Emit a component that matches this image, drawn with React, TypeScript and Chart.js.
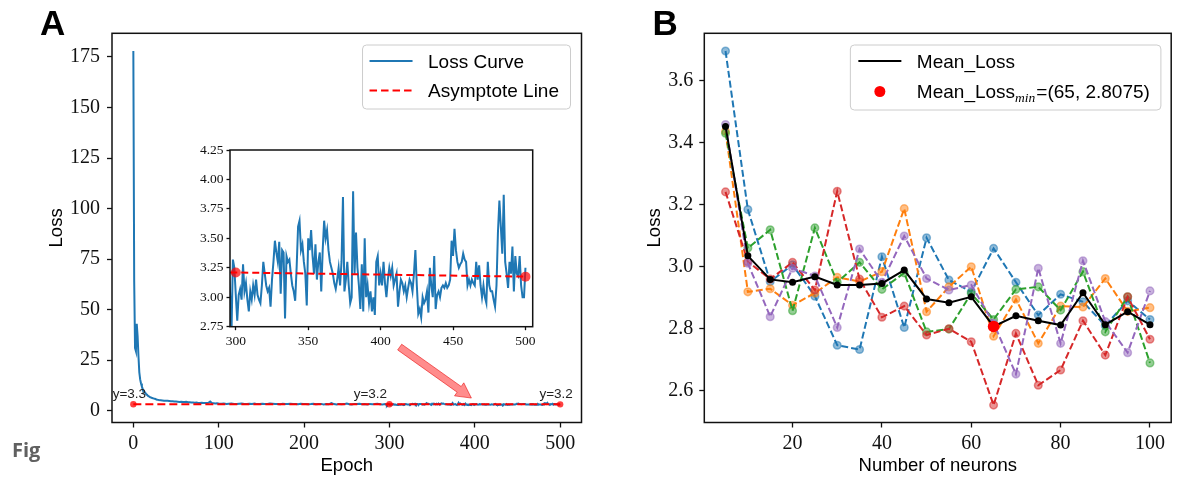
import React, { useEffect, useRef } from "react";
import { Chart, registerables } from "chart.js";

Chart.register(...registerables);

const SANS = '"Liberation Sans", Arial, Helvetica, sans-serif';
const SERIF = '"Liberation Serif", "Times New Roman", serif';

// ---------------- Panel A data ----------------
const lossHeadEpochs = [
  0, 1, 2, 3, 4, 5, 6, 7, 8, 9, 10, 11, 12, 13, 14, 15, 16, 17, 18, 19, 20, 21, 22, 23, 24, 25, 26, 27, 28, 29, 30,
  32, 34, 36, 38, 40, 42, 44, 46, 48, 50, 52, 54, 56, 58, 60, 62, 64, 66, 68, 70, 72, 74, 76, 78, 80, 82, 84, 86, 88, 90, 92, 94, 96, 98, 100,
  103, 106, 109, 112, 115, 118, 121, 124, 127, 130, 133, 136, 139, 142, 145, 148, 151, 154, 157, 160, 163, 166, 169, 172, 175, 178, 181, 184,
  187, 190, 193, 196, 199, 202, 205, 208, 211, 214, 217, 220, 223, 226, 229, 232, 235, 238, 241, 244, 247, 250, 253, 256, 259, 262, 265, 268,
  271, 274, 277, 280, 283, 286, 289, 292, 295,
];
const lossHeadValues = [
  178, 64, 31, 29.5, 43, 37, 27, 19, 15.5, 13.5, 12, 10.8, 10, 9.3, 8.8, 8.3, 7.9, 7.5, 7.2, 6.9, 6.7, 6.5, 6.3, 6.2, 6.0, 5.9, 5.8, 5.6, 5.5, 5.4, 5.3,
  5.2, 5.1, 5.0, 4.9, 4.9, 4.8, 4.7, 4.7, 4.6, 4.6, 4.5, 4.4, 4.5, 4.3, 4.3, 4.4, 4.2, 4.2, 4.1, 4.1, 4.0, 4.1, 3.9, 3.9, 4.0, 3.8, 3.9, 3.8, 3.9, 4.6, 3.8, 3.7, 3.6, 3.7, 3.6,
  3.5, 3.6, 3.4, 3.5, 3.6, 3.4, 3.3, 3.5, 3.6, 3.4, 3.3, 3.5, 3.4, 3.6, 3.3, 3.4, 3.5, 3.3, 3.4, 3.6, 3.5, 3.3, 3.4, 3.2, 3.5, 3.4, 3.3, 3.5,
  3.3, 3.4, 3.2, 3.5, 3.3, 3.4, 3.2, 3.3, 3.5, 3.2, 3.3, 3.4, 3.1, 3.3, 3.2, 3.8, 3.3, 3.1, 3.4, 3.2, 3.3, 3.6, 3.2, 3.1, 3.4, 3.3, 3.5, 3.2,
  3.3, 3.1, 3.4, 3.2, 3.3, 3.5, 3.2, 3.1, 3.3,
];
// one value per epoch, starting at epoch 296 and ending at epoch 500
const lossTailFirstEpoch = 296;
const lossTailValues = [
  3.05, 2.68, 3.32, 3.25, 3.02, 2.80, 3.02, 3.07, 2.98, 3.28,
  3.05, 3.12, 2.98, 2.88, 3.05, 2.98, 3.10, 3.02, 3.15, 3.02,
  2.98, 2.95, 3.10, 3.30, 3.20, 3.10, 3.05, 3.08, 2.92, 3.15,
  3.30, 3.48, 3.38, 3.30, 3.47, 3.03, 3.40, 3.38, 2.82, 3.35,
  3.30, 3.32, 3.20, 3.10, 3.05, 2.97, 3.25, 3.60, 3.65, 3.40,
  3.45, 3.30, 3.20, 2.93, 3.50, 3.40, 3.57, 3.35, 3.20, 3.45,
  3.15, 3.30, 3.38, 3.05, 3.40, 3.65, 3.50, 3.57, 3.40, 3.30,
  3.25, 3.20, 3.12, 3.07, 3.15, 3.25, 3.10, 3.30, 3.85, 3.05,
  3.15, 3.30, 3.10, 2.95, 3.00, 3.90, 3.20, 3.55, 3.25, 3.10,
  2.90, 3.28, 2.88, 3.50, 3.00, 3.10, 2.95, 3.05, 2.88, 3.00,
  2.85, 3.30, 3.35, 3.10,
  3.20, 3.10, 3.30, 3.12, 3.00, 3.15, 3.25, 3.18, 3.25, 3.10,
  3.15, 3.20, 2.92, 3.05, 3.15, 3.12, 3.05, 3.10, 3.00, 3.08,
  3.15, 3.12, 3.05, 3.20, 3.40, 3.10, 2.86, 2.90, 2.83, 3.00,
  2.95, 2.98, 3.05, 2.87, 3.25, 3.10, 3.00, 3.35, 2.90, 3.02,
  3.05, 3.00, 3.08, 3.10, 3.08, 3.12, 3.08, 3.10, 3.15, 3.48,
  3.35, 3.58, 3.40, 3.30, 3.25, 3.28, 3.30, 3.37, 3.32, 3.30,
  3.10, 3.15, 3.10, 3.15, 3.12, 3.10, 3.30, 3.15, 3.27, 3.10,
  3.00, 3.10, 3.00, 2.95, 3.30, 3.10, 3.05, 3.05, 2.98, 2.92,
  3.10, 3.55, 3.82, 3.60, 3.37, 3.87, 3.30, 3.20, 3.08, 3.30,
  3.20, 3.43, 3.05, 3.35, 3.20, 3.18, 3.35, 3.10, 3.00, 3.00,
  3.25,
];
const asymEpochs = [0, 300, 500];
const asymValues = [3.26, 3.21, 3.175];
const mainXTicks = [0, 100, 200, 300, 400, 500];
const mainYTicks = [0, 25, 50, 75, 100, 125, 150, 175];
const insetXTicks = [300, 350, 400, 450, 500];
const insetYTicks = [2.75, 3.0, 3.25, 3.5, 3.75, 4.0, 4.25];
const arrowFrom = [312, 31.5]; // (epoch, loss)
const arrowTo = [396, 6.3];

// ---------------- Panel B data ----------------
const neurons = [5, 10, 15, 20, 25, 30, 35, 40, 45, 50, 55, 60, 65, 70, 75, 80, 85, 90, 95, 100];
const runBlue = [3.695, 3.184, 2.952, 3.006, 2.905, 2.747, 2.733, 3.032, 2.804, 3.093, 2.957, 2.919, 3.059, 2.95, 2.844, 2.911, 2.887, 2.81, 2.89, 2.83];
const runOrange = [3.436, 2.919, 2.929, 2.876, 2.915, 2.966, 2.952, 2.984, 3.187, 2.855, 2.935, 3.0, 2.776, 2.895, 2.753, 2.873, 2.87, 2.962, 2.856, 2.868];
const runGreen = [3.43, 3.06, 3.119, 2.858, 3.125, 2.95, 3.014, 2.927, 2.98, 2.79, 2.799, 2.914, 2.83, 2.927, 2.935, 2.86, 2.984, 2.79, 2.903, 2.69];
const runRed = [3.241, 3.016, 2.96, 3.014, 2.925, 3.243, 2.96, 2.837, 2.873, 2.78, 2.8, 2.758, 2.554, 2.785, 2.618, 2.667, 2.826, 2.715, 2.903, 2.766];
const runPurple = [3.458, 3.011, 2.839, 2.995, 2.97, 2.804, 3.057, 2.95, 3.099, 2.962, 2.925, 2.941, 2.818, 2.654, 2.995, 2.753, 3.019, 2.823, 2.723, 2.922];
const meanLoss = [3.452, 3.035, 2.959, 2.95, 2.968, 2.941, 2.941, 2.946, 2.989, 2.896, 2.884, 2.903, 2.8075, 2.842, 2.826, 2.812, 2.916, 2.813, 2.855, 2.813];
const bXTicks = [20, 40, 60, 80, 100];
const bYTicks = [2.6, 2.8, 3.0, 3.2, 3.4, 3.6];

const runColors = ["#1f77b4", "#ff7f0e", "#2ca02c", "#d62728", "#9467bd"];

// ---------------- helpers ----------------
function rgba(hex: string, a: number) {
  const n = parseInt(hex.slice(1), 16);
  return `rgba(${(n >> 16) & 255},${(n >> 8) & 255},${n & 255},${a})`;
}

function makeScale(o: {
  min: number; max: number; ticks: number[]; fmt: (v: number) => string;
  fontSize: number; tickLen: number; pad: number; size: number; isX: boolean;
}) {
  return {
    type: "linear",
    min: o.min,
    max: o.max,
    afterBuildTicks: (s: any) => {
      s.ticks = o.ticks.map((v) => ({ value: v }));
    },
    afterFit: (s: any) => {
      if (o.isX) {
        s.height = o.size;
        s.paddingLeft = 0;
        s.paddingRight = 0;
      } else {
        s.width = o.size;
        s.paddingTop = 0;
        s.paddingBottom = 0;
      }
    },
    grid: { drawOnChartArea: false, drawTicks: true, tickLength: o.tickLen, tickWidth: 1.3, tickColor: "#111", color: "#111" },
    border: { display: false },
    ticks: {
      font: { family: SERIF, size: o.fontSize },
      color: "#111",
      padding: o.pad,
      autoSkip: false,
      maxRotation: 0,
      minRotation: 0,
      callback: (v: any) => o.fmt(Number(v)),
    },
  };
}

const framePlugin = {
  id: "frame",
  beforeDraw(chart: any, _a: any, o: any) {
    if (!o || !o.fill) return;
    const { ctx, chartArea: c } = chart;
    ctx.save();
    ctx.fillStyle = o.fill;
    ctx.fillRect(c.left, c.top, c.right - c.left, c.bottom - c.top);
    ctx.restore();
  },
  afterDatasetsDraw(chart: any, _a: any, o: any) {
    const { ctx, chartArea: c } = chart;
    ctx.save();
    ctx.strokeStyle = "#111";
    ctx.lineWidth = (o && o.width) || 1.5;
    ctx.strokeRect(c.left, c.top, c.right - c.left, c.bottom - c.top);
    ctx.restore();
  },
};

const titlesPlugin = {
  id: "titles",
  afterDraw(chart: any, _a: any, o: any) {
    if (!o || !o.x) return;
    const { ctx, chartArea: c } = chart;
    ctx.save();
    ctx.fillStyle = "#000";
    ctx.font = `${o.size}px ${SANS}`;
    ctx.textAlign = "center";
    ctx.textBaseline = "alphabetic";
    ctx.fillText(o.x, (c.left + c.right) / 2, o.xBaseline);
    ctx.translate(o.yBaseline, (c.top + c.bottom) / 2);
    ctx.rotate(-Math.PI / 2);
    ctx.fillText(o.y, 0, 0);
    ctx.restore();
  },
};

const legendPlugin = {
  id: "mplLegend",
  afterDraw(chart: any, _a: any, o: any) {
    if (!o || !o.items) return;
    const { ctx, chartArea: c } = chart;
    ctx.save();
    const widths = o.items.map((it: any) =>
      it.parts.reduce((w: number, p: any) => {
        ctx.font = p.font;
        return w + ctx.measureText(p.text).width + (p.gap || 0);
      }, 0)
    );
    const textW = Math.max(...widths);
    const W = o.padL + o.handleLen + o.gap + textW + o.padR;
    const H = o.padT + o.rowH * (o.items.length - 1) + o.padB;
    const right = c.right - o.insetX;
    const top = c.top + o.insetY;
    const left = right - W;
    const r = 4;
    ctx.beginPath();
    ctx.moveTo(left + r, top);
    ctx.lineTo(right - r, top);
    ctx.arcTo(right, top, right, top + r, r);
    ctx.lineTo(right, top + H - r);
    ctx.arcTo(right, top + H, right - r, top + H, r);
    ctx.lineTo(left + r, top + H);
    ctx.arcTo(left, top + H, left, top + H - r, r);
    ctx.lineTo(left, top + r);
    ctx.arcTo(left, top, left + r, top, r);
    ctx.closePath();
    ctx.fillStyle = "rgba(255,255,255,0.8)";
    ctx.fill();
    ctx.strokeStyle = "#cccccc";
    ctx.lineWidth = 1;
    ctx.stroke();
    o.items.forEach((it: any, i: number) => {
      const cy = top + o.padT + i * o.rowH;
      const hx0 = left + o.padL;
      const hx1 = hx0 + o.handleLen;
      const h = it.handle;
      if (h.type === "line") {
        ctx.beginPath();
        ctx.setLineDash(h.dash || []);
        ctx.strokeStyle = h.color;
        ctx.lineWidth = h.width;
        ctx.moveTo(hx0, cy);
        ctx.lineTo(hx1, cy);
        ctx.stroke();
        ctx.setLineDash([]);
      } else {
        ctx.beginPath();
        ctx.fillStyle = h.color;
        ctx.arc((hx0 + hx1) / 2, cy, h.radius, 0, Math.PI * 2);
        ctx.fill();
      }
      let x = hx1 + o.gap;
      it.parts.forEach((p: any) => {
        ctx.font = p.font;
        ctx.fillStyle = "#000";
        ctx.textAlign = "left";
        ctx.textBaseline = "alphabetic";
        ctx.fillText(p.text, x, cy + o.baseOff + (p.dy || 0));
        x += ctx.measureText(p.text).width + (p.gap || 0);
      });
    });
    ctx.restore();
  },
};

const annotAPlugin = {
  id: "annotA",
  afterDatasetsDraw(chart: any, _a: any, o: any) {
    if (!o || !o.on) return;
    const { ctx } = chart;
    const xs = chart.scales.x;
    const ys = chart.scales.y;
    ctx.save();
    ctx.font = `13.5px ${SANS}`;
    ctx.fillStyle = "#222";
    ctx.textAlign = "center";
    ctx.textBaseline = "alphabetic";
    asymEpochs.forEach((e, i) => {
      const px = xs.getPixelForValue(e) + o.shift[i];
      const py = ys.getPixelForValue(asymValues[i]) - 6;
      ctx.fillText(`y=${asymValues[i].toFixed(1)}`, px, py);
    });
    // arrow
    const x0 = xs.getPixelForValue(arrowFrom[0]);
    const y0 = ys.getPixelForValue(arrowFrom[1]);
    const x1 = xs.getPixelForValue(arrowTo[0]);
    const y1 = ys.getPixelForValue(arrowTo[1]);
    const dx = x1 - x0;
    const dy = y1 - y0;
    const len = Math.hypot(dx, dy);
    const ux = dx / len;
    const uy = dy / len;
    const nx = -uy;
    const ny = ux;
    const sw = 3.5;
    const hw = 8;
    const hl = 15;
    const bx = x1 - ux * hl;
    const by = y1 - uy * hl;
    ctx.beginPath();
    ctx.moveTo(x0 + nx * sw, y0 + ny * sw);
    ctx.lineTo(bx + nx * sw, by + ny * sw);
    ctx.lineTo(bx + nx * hw, by + ny * hw);
    ctx.lineTo(x1, y1);
    ctx.lineTo(bx - nx * hw, by - ny * hw);
    ctx.lineTo(bx - nx * sw, by - ny * sw);
    ctx.lineTo(x0 - nx * sw, y0 - ny * sw);
    ctx.closePath();
    ctx.fillStyle = "rgba(255,0,0,0.45)";
    ctx.fill();
    ctx.strokeStyle = "rgba(230,0,0,0.55)";
    ctx.lineWidth = 1;
    ctx.stroke();
    ctx.restore();
  },
};

function lossPoints() {
  const pts = lossHeadEpochs.map((e, i) => ({ x: e, y: lossHeadValues[i] }));
  lossTailValues.forEach((v, i) => pts.push({ x: lossTailFirstEpoch + i, y: v }));
  return pts;
}

function asymPoints() {
  return asymEpochs.map((e, i) => ({ x: e, y: asymValues[i] }));
}

export default function App() {
  const refA = useRef<HTMLCanvasElement>(null);
  const refI = useRef<HTMLCanvasElement>(null);
  const refB = useRef<HTMLCanvasElement>(null);

  useEffect(() => {
    const charts: Chart[] = [];
    const plugins = [framePlugin, titlesPlugin, legendPlugin, annotAPlugin];
    const common = {
      animation: false,
      responsive: false,
      devicePixelRatio: 1,
      events: [],
    };

    // ---------- Panel A main ----------
    charts.push(
      new Chart(refA.current as HTMLCanvasElement, {
        type: "scatter",
        data: {
          datasets: [
            {
              label: "Loss Curve",
              data: lossPoints(),
              showLine: true,
              borderColor: "#1f77b4",
              borderWidth: 2,
              pointRadius: 0,
              order: 2,
            },
            {
              label: "Asymptote Line",
              data: asymPoints(),
              showLine: true,
              borderColor: "#ff0000",
              borderWidth: 2,
              borderDash: [8, 4],
              pointRadius: 3.2,
              pointBackgroundColor: "rgba(255,0,0,0.75)",
              pointBorderWidth: 0,
              order: 1,
            },
          ],
        },
        options: {
          ...common,
          layout: { padding: { left: 0, right: 18.5, top: 33.3, bottom: 0 } },
          scales: {
            x: makeScale({ min: -25, max: 525, ticks: mainXTicks, fmt: (v) => String(v), fontSize: 20, tickLen: 5, pad: 4, size: 57.5, isX: true }),
            y: makeScale({ min: -5.8, max: 186.7, ticks: mainYTicks, fmt: (v) => String(v), fontSize: 20, tickLen: 5, pad: 7, size: 112, isX: false }),
          },
          plugins: {
            legend: { display: false },
            tooltip: { enabled: false },
            frame: { width: 1.5 },
            titles: { x: "Epoch", y: "Loss", size: 18.5, xBaseline: 470.7, yBaseline: 61.5 },
            annotA: { on: true, shift: [-4, -19, -4] },
            mplLegend: {
              insetX: 11, insetY: 11.7, padL: 7, handleLen: 43, gap: 15.5, padR: 11.5,
              padT: 16, rowH: 29.5, padB: 18.5, baseOff: 6.5,
              items: [
                { parts: [{ text: "Loss Curve", font: `19px ${SANS}` }], handle: { type: "line", color: "#1f77b4", width: 2 } },
                { parts: [{ text: "Asymptote Line", font: `19px ${SANS}` }], handle: { type: "line", color: "#ff0000", width: 2, dash: [7.5, 4] } },
              ],
            },
          },
        },
        plugins,
      } as any)
    );

    // ---------- Panel A inset ----------
    charts.push(
      new Chart(refI.current as HTMLCanvasElement, {
        type: "scatter",
        data: {
          datasets: [
            {
              label: "Loss Curve",
              data: lossPoints(),
              showLine: true,
              borderColor: "#1f77b4",
              borderWidth: 2,
              pointRadius: 0,
              order: 2,
            },
            {
              label: "Asymptote Line",
              data: asymPoints(),
              showLine: true,
              borderColor: "#ff0000",
              borderWidth: 2,
              borderDash: [7, 4],
              pointRadius: 5,
              pointBackgroundColor: "rgba(255,0,0,0.7)",
              pointBorderWidth: 0,
              order: 1,
            },
          ],
        },
        options: {
          ...common,
          layout: { padding: { left: 0, right: 17.3, top: 20, bottom: 0 } },
          scales: {
            x: makeScale({ min: 296, max: 505, ticks: insetXTicks, fmt: (v) => String(v), fontSize: 13.5, tickLen: 3.5, pad: 3, size: 33.3, isX: true }),
            y: makeScale({ min: 2.75, max: 4.25, ticks: insetYTicks, fmt: (v) => v.toFixed(2), fontSize: 13.5, tickLen: 3.5, pad: 3, size: 60, isX: false }),
          },
          plugins: {
            legend: { display: false },
            tooltip: { enabled: false },
            frame: { width: 1.5, fill: "#ffffff" },
          },
        },
        plugins,
      } as any)
    );

    // ---------- Panel B ----------
    const runs = [runBlue, runOrange, runGreen, runRed, runPurple];
    let minIdx = 0;
    meanLoss.forEach((v, i) => {
      if (v < meanLoss[minIdx]) minIdx = i;
    });
    const bSets: any[] = runs.map((run, k) => ({
      label: `run ${k + 1}`,
      data: neurons.map((n, i) => ({ x: n, y: run[i] })),
      showLine: true,
      borderColor: runColors[k],
      borderWidth: 2,
      borderDash: [7, 3],
      pointRadius: 3.8,
      pointBackgroundColor: rgba(runColors[k], 0.5),
      pointBorderColor: rgba(runColors[k], 0.5),
      pointBorderWidth: 1.5,
      order: 10 - k,
    }));
    bSets.push({
      label: "Mean_Loss",
      data: neurons.map((n, i) => ({ x: n, y: meanLoss[i] })),
      showLine: true,
      borderColor: "#000",
      borderWidth: 2,
      pointRadius: 3.5,
      pointBackgroundColor: "#000",
      pointBorderWidth: 0,
      order: 2,
    });
    bSets.push({
      label: "min",
      data: [{ x: neurons[minIdx], y: meanLoss[minIdx] }],
      showLine: false,
      pointRadius: 5.8,
      pointBackgroundColor: "#ff0000",
      pointBorderWidth: 0,
      order: 1,
    });

    charts.push(
      new Chart(refB.current as HTMLCanvasElement, {
        type: "scatter",
        data: { datasets: bSets },
        options: {
          ...common,
          layout: { padding: { left: 0, right: 3.7, top: 33.3, bottom: 0 } },
          scales: {
            x: makeScale({ min: 0.25, max: 104.75, ticks: bXTicks, fmt: (v) => String(v), fontSize: 20, tickLen: 5, pad: 4, size: 57.5, isX: true }),
            y: makeScale({ min: 2.498, max: 3.752, ticks: bYTicks, fmt: (v) => v.toFixed(1), fontSize: 20, tickLen: 5, pad: 6, size: 104.3, isX: false }),
          },
          plugins: {
            legend: { display: false },
            tooltip: { enabled: false },
            frame: { width: 1.5 },
            titles: { x: "Number of neurons", y: "Loss", size: 18.5, xBaseline: 470.7, yBaseline: 59.5 },
            mplLegend: {
              insetX: 10.3, insetY: 11.7, padL: 8, handleLen: 43, gap: 15.5, padR: 11,
              padT: 16, rowH: 30.5, padB: 18.5, baseOff: 6.5,
              items: [
                { parts: [{ text: "Mean_Loss", font: `19px ${SANS}` }], handle: { type: "line", color: "#000", width: 2 } },
                {
                  parts: [
                    { text: "Mean_Loss", font: `19px ${SANS}` },
                    { text: "min", font: `italic 13.5px ${SERIF}`, dy: 4, gap: 1 },
                    { text: `=(${neurons[minIdx]}, ${meanLoss[minIdx]})`, font: `19px ${SANS}` },
                  ],
                  handle: { type: "dot", color: "#ff0000", radius: 5.5 },
                },
              ],
            },
          },
        },
        plugins,
      } as any)
    );

    return () => {
      charts.forEach((c) => c.destroy());
    };
  }, []);

  return (
    <div style={{ position: "absolute", left: 0, top: 0, width: 1177, height: 480, background: "#fff", overflow: "hidden" }}>
      <canvas ref={refA} width={600} height={480} style={{ position: "absolute", left: 0, top: 0, width: 600, height: 480 }} />
      <canvas ref={refI} width={380} height={230} style={{ position: "absolute", left: 170, top: 130, width: 380, height: 230 }} />
      <canvas ref={refB} width={577} height={480} style={{ position: "absolute", left: 600, top: 0, width: 577, height: 480 }} />
      <div style={{ position: "absolute", left: 40, top: 5.4, font: `bold 35px ${SANS}`, lineHeight: "35px", color: "#000" }}>A</div>
      <div style={{ position: "absolute", left: 652.5, top: 5.4, font: `bold 35px ${SANS}`, lineHeight: "35px", color: "#000" }}>B</div>
      <div style={{ position: "absolute", left: 12, top: 440, font: `bold 20px "Open Sans", ${SANS}`, lineHeight: "20px", color: "#606060" }}>Fig</div>
    </div>
  );
}
